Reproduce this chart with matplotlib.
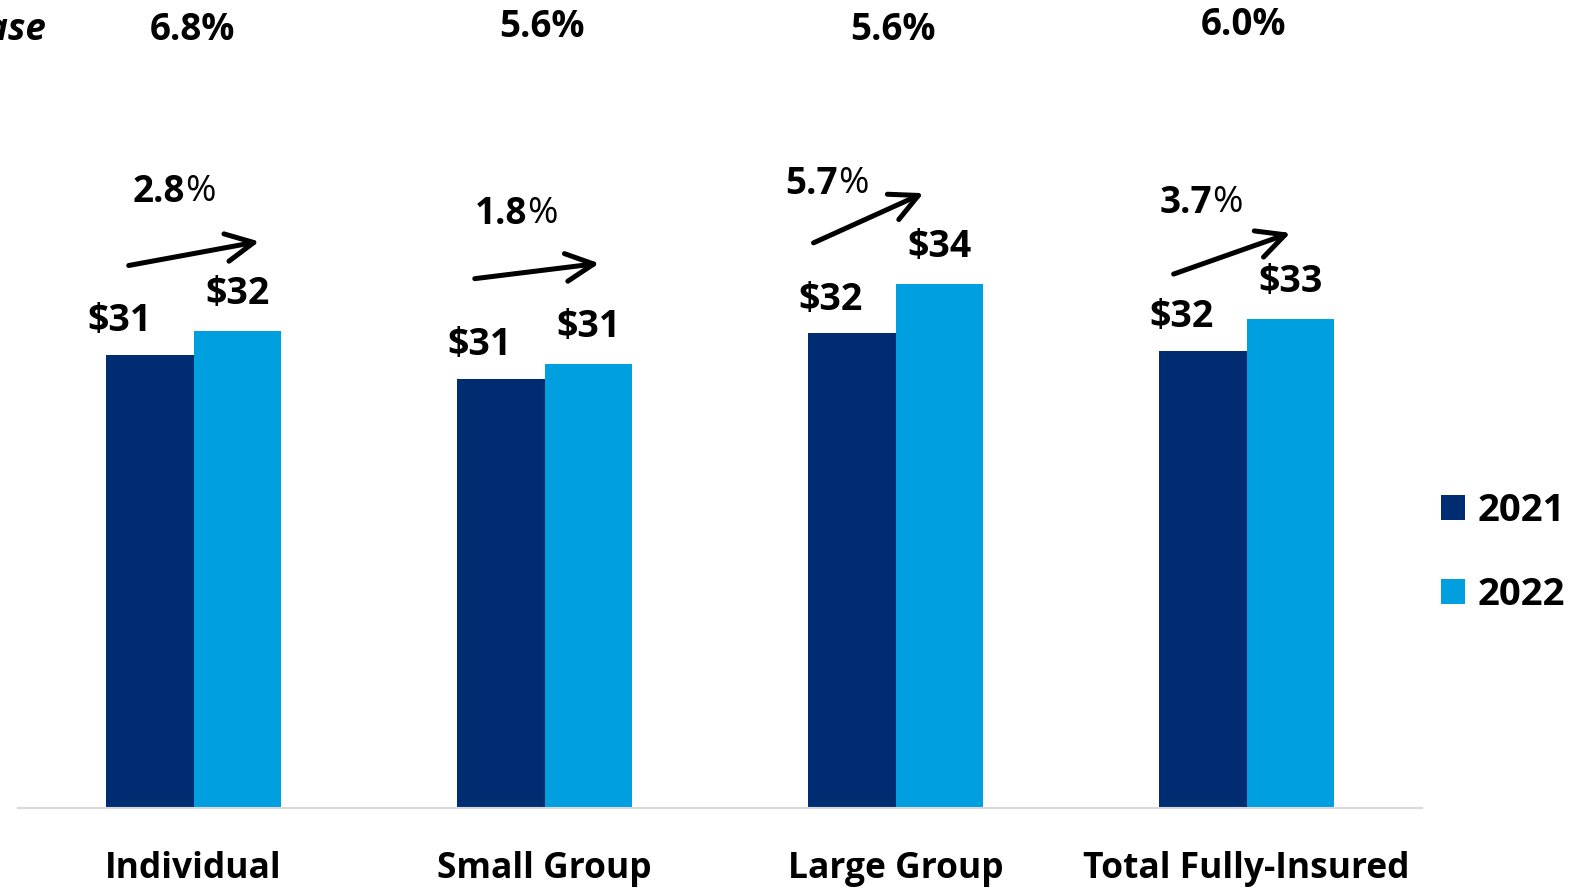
import matplotlib
matplotlib.use("Agg")
import matplotlib.pyplot as plt
import numpy as np

# ---- data ----
categories = ["Individual", "Small Group", "Large Group", "Total Fully-Insured"]
years = ["2021", "2022"]
values_2021 = [31.0, 29.4, 32.5, 31.3]   # bar heights as drawn
values_2022 = [32.7, 30.4, 35.9, 33.5]
labels_2021 = ["$31", "$31", "$32", "$32"]
labels_2022 = ["$32", "$31", "$34", "$33"]
change_pct = ["2.8", "1.8", "5.7", "3.7"]
top_pct = ["6.8%", "5.6%", "5.6%", "6.0%"]

c2021 = "#002D72"
c2022 = "#009FDF"

W, H, DPI = 1570, 888, 100
plt.rcParams["font.family"] = ["Open Sans", "DejaVu Sans"]
fig = plt.figure(figsize=(W / DPI, H / DPI), dpi=DPI)

def fp(x, y):
    return (x / W, 1 - y / H)

ax = fig.add_axes([18 / W, 80 / H, 1404 / W, 808 / H])
x = np.arange(len(categories))
bw = 0.25
ax.bar(x - bw / 2, values_2021, bw, color=c2021, label=years[0])
ax.bar(x + bw / 2, values_2022, bw, color=c2022, label=years[1])
ax.set_xlim(-0.5, len(categories) - 0.5)
ax.set_ylim(0, 808 / 14.6)
for s in ["top", "right", "left"]:
    ax.spines[s].set_visible(False)
ax.spines["bottom"].set_color("#d9d9d9")
ax.spines["bottom"].set_linewidth(1.5)
ax.set_yticks([])
ax.set_xticks(x)
ax.set_xticklabels(categories, fontsize=25.5, fontweight="bold")
ax.tick_params(axis="x", length=0, pad=31)

fs_val = 27
offs_2021 = [-30, -21, -21, -21]
for i in range(len(categories)):
    ax.annotate(labels_2021[i], (x[i] - bw / 2, values_2021[i]), xytext=(offs_2021[i], 34),
                textcoords="offset pixels", ha="center", va="center", fontsize=fs_val, fontweight="bold")
    ax.annotate(labels_2022[i], (x[i] + bw / 2, values_2022[i]), xytext=(0, 37),
                textcoords="offset pixels", ha="center", va="center", fontsize=fs_val, fontweight="bold")

# top percentages
fs_pct = 26.5
top_pos = [(192, 30), (542, 27), (893, 30), (1243, 25)]
for (px, py), t in zip(top_pos, top_pct):
    fig.text(*fp(px, py), t, ha="center", va="center", fontsize=fs_pct, fontweight="bold")
fig.text(*fp(46, 30), "% Increase", ha="right", va="center", fontsize=fs_pct,
         fontweight="bold", style="italic")

# arrows and change labels
arrows = [((126, 266), (262, 241)), ((472, 279), (602, 263)),
          ((811, 244), (926, 192)), ((1171, 275), (1293, 232))]
pct_pos = [(172, 192), (514, 214), (825, 184), (1199, 203)]
for ((x0, y0), (x1, y1)), (px, py), p in zip(arrows, pct_pos, change_pct):
    fig.add_artist(matplotlib.patches.FancyArrowPatch(
        fp(x0, y0), fp(x1, y1), transform=fig.transFigure,
        arrowstyle="->,head_length=1.0,head_width=0.5", lw=3.6, color="black",
        mutation_scale=20))
    fig.text(*fp(px + 13, py), p, ha="right", va="center", fontsize=fs_pct, fontweight="bold")
    fig.text(*fp(px + 13, py), "%", ha="left", va="center", fontsize=fs_pct, fontweight="normal")

# legend
leg = fig.legend(loc="center left", bbox_to_anchor=fp(1441, 553), frameon=False,
                 prop={"weight": "bold", "size": 27.5}, borderaxespad=0, borderpad=0,
                 handlelength=0.62, handleheight=0.62, handletextpad=0.35, labelspacing=1.2)

fig.savefig("out.png", dpi=DPI)
